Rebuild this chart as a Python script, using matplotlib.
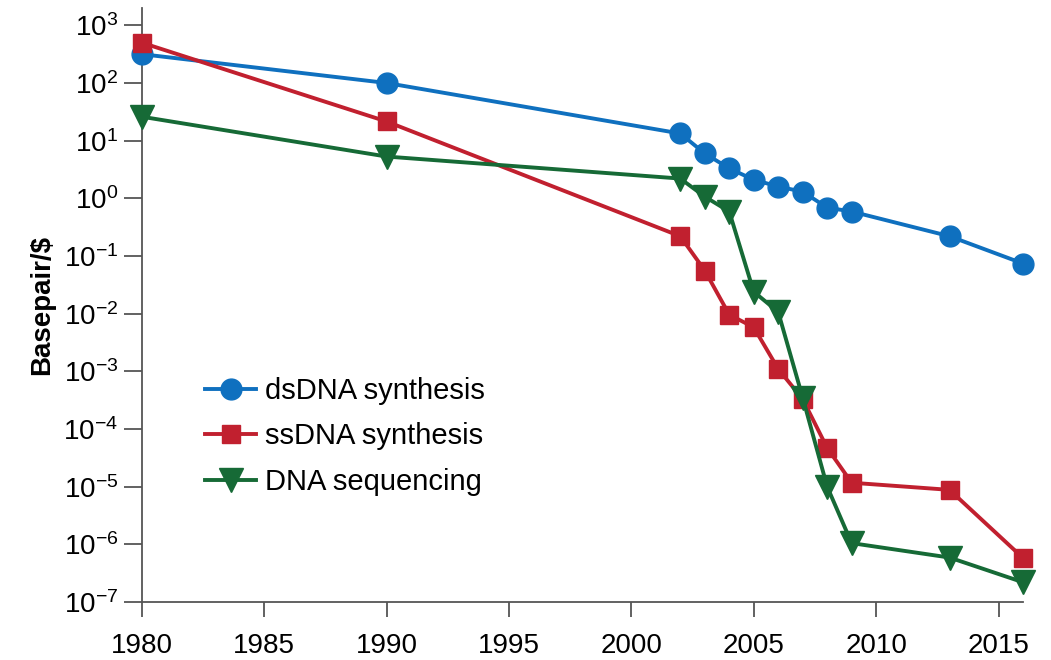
import numpy as np
import matplotlib.pyplot as plt

plt.rcParams['font.family'] = ['Liberation Sans', 'DejaVu Sans']
plt.rcParams['mathtext.fontset'] = 'custom'
plt.rcParams['mathtext.rm'] = 'Liberation Sans'

# cost per basepair over time (log scale)
ds_years = [1980, 1990, 2002, 2003, 2004, 2005, 2006, 2007, 2008, 2009, 2013, 2016]
ds_vals = [316, 100, 13.3, 6.0, 3.3, 2.1, 1.6, 1.3, 0.69, 0.59, 0.22, 0.074]

ss_years = [1980, 1990, 2002, 2003, 2004, 2005, 2006, 2007, 2008, 2009, 2013, 2016]
ss_vals = [500, 21.5, 0.22, 0.056, 0.0096, 0.0058, 0.0011, 3.3e-4, 4.7e-5, 1.17e-5, 8.8e-6, 5.8e-7]

seq_years = [1980, 1990, 2002, 2003, 2004, 2005, 2006, 2007, 2008, 2009, 2013, 2016]
seq_vals = [26, 5.3, 2.2, 1.07, 0.59, 0.024, 0.0107, 3.5e-4, 1.0e-5, 1.05e-6, 5.9e-7, 2.2e-7]

blue = '#0f70bf'
red = '#c1202f'
green = '#166a36'

fig = plt.figure(figsize=(10.51, 6.6), dpi=100)
ax = fig.add_axes([141.7 / 1051, 58 / 660, (1023 - 141.7) / 1051, (602 - 8) / 660])

ax.plot(ds_years, ds_vals, color=blue, lw=2.8, marker='o', ms=15, clip_on=False,
        label='dsDNA synthesis', zorder=3)
ax.plot(ss_years, ss_vals, color=red, lw=2.8, marker='s', ms=13, clip_on=False,
        label='ssDNA synthesis', zorder=4)
ax.plot(seq_years, seq_vals, color=green, lw=2.8, marker='v', ms=17, clip_on=False,
        label='DNA sequencing', zorder=5)

ax.set_yscale('log')
ax.set_xlim(1980, 2016)
ax.set_ylim(1e-7, 10 ** 3.3)
ax.set_yticks([10.0 ** k for k in range(-7, 4)])
ax.yaxis.set_minor_locator(plt.NullLocator())
ax.set_xticks([1980, 1985, 1990, 1995, 2000, 2005, 2010, 2015])

for side in ['top', 'right']:
    ax.spines[side].set_visible(False)
for side in ['left', 'bottom']:
    ax.spines[side].set_color('#555555')
    ax.spines[side].set_linewidth(1.3)

ax.tick_params(axis='y', length=13, width=1.3, color='#555555', labelsize=20, pad=4)
ax.tick_params(axis='x', length=11, width=1.3, color='#555555', labelsize=20, pad=11)

ax.set_ylabel('Basepair/\\$', fontsize=20, fontweight='bold', labelpad=6)

ax.legend(loc='upper left', bbox_to_anchor=(205 / 1051, 1 - 377 / 660),
          bbox_transform=fig.transFigure, frameon=False, fontsize=21,
          borderpad=0, borderaxespad=0, handlelength=1.75, handletextpad=0.3,
          labelspacing=0.6)

fig.savefig('out.png', dpi=100)
